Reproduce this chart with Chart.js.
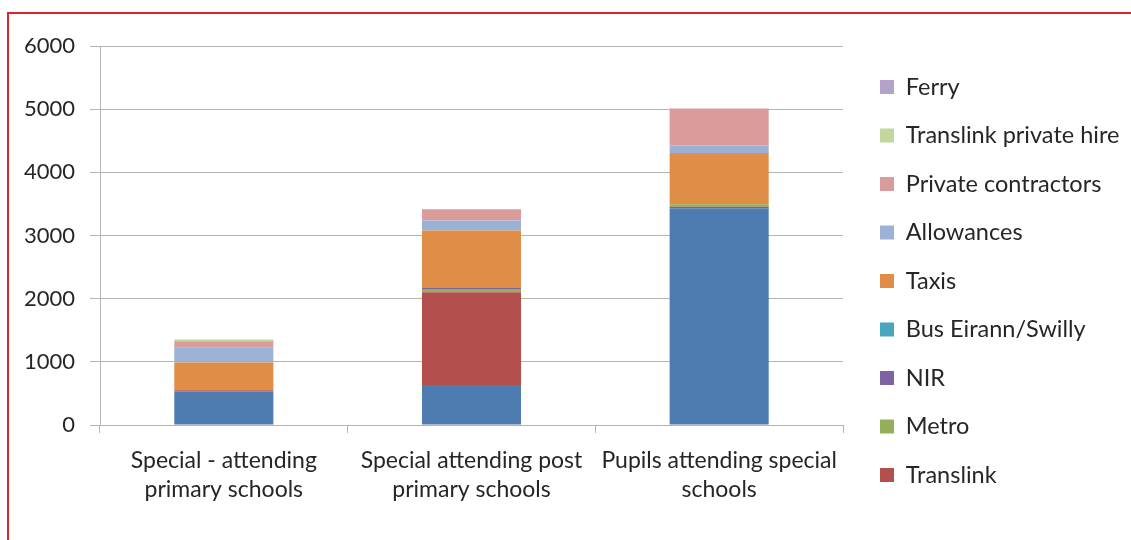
<!DOCTYPE html>
<html>
<head>
<meta charset="utf-8">
<title>Transport of pupils by mode</title>
<script src="https://cdn.jsdelivr.net/npm/chart.js@4/dist/chart.umd.min.js"></script>
<style>
  html, body { margin: 0; padding: 0; background: #ffffff; }
  #frame {
    position: absolute; left: 7px; top: 12px; width: 1124px; height: 528px;
    border-top: 2px solid #D9262F; border-left: 2px solid #D9262F;
    box-sizing: border-box;
  }
  #wrap { position: absolute; left: 0; top: 0; width: 1131px; height: 540px; }
</style>
</head>
<body>
<div id="frame"></div>
<div id="wrap"><canvas id="chart" width="1131" height="540"></canvas></div>
<script>
// Pupil groups along the x axis (two-line labels)
const categories = [
  ['Special - attending', 'primary schools'],
  ['Special attending post', 'primary schools'],
  ['Pupils attending special', 'schools']
];

// Value axis range
const yMin = 0;
const yMax = 6000;
const yStep = 1000;

// Pupils carried by each mode, one value per group (stacked bottom to top)
const boardBuses           = [530, 635, 3430];
const translink            = [20, 1465, 25];
const metro                = [0, 55, 40];
const nir                  = [0, 20, 0];
const busEireannSwilly     = [0, 0, 0];
const taxis                = [440, 905, 810];
const allowances           = [240, 157, 120];
const privateContractors   = [95, 174, 585];
const translinkPrivateHire = [30, 0, 0];
const ferry                = [0, 10, 0];

const series = [
  { label: 'Board buses',            data: boardBuses,           color: '#4E7CB0', legend: false },
  { label: 'Translink',              data: translink,            color: '#B3504D', legend: true },
  { label: 'Metro',                  data: metro,                color: '#93AF59', legend: true },
  { label: 'NIR',                    data: nir,                  color: '#7E62A1', legend: true },
  { label: 'Bus Eirann/Swilly',      data: busEireannSwilly,     color: '#4AA6BE', legend: true },
  { label: 'Taxis',                  data: taxis,                color: '#E08D47', legend: true },
  { label: 'Allowances',             data: allowances,           color: '#9CB1D6', legend: true },
  { label: 'Private contractors',    data: privateContractors,   color: '#D99C9B', legend: true },
  { label: 'Translink private hire', data: translinkPrivateHire, color: '#C3D69B', legend: true },
  { label: 'Ferry',                  data: ferry,                color: '#B3A3C8', legend: true }
];

const FONT = 'Lato, "Open Sans", "Noto Sans", sans-serif';
const TEXT = '#262626';
const GRID = '#B4B4B4';
const LEGEND_FONT = 23.5;
const LEGEND_PAD = 25;

// Keeps the legend in one column beside the plot and places it in the right margin
const legendPlacement = {
  id: 'legendPlacement',
  beforeUpdate(chart) {
    const lg = chart.legend;
    if (lg && !lg._oneColumn) {
      const fit = lg.fit;
      lg.fit = function () {
        this.maxHeight = 2000;
        fit.call(this);
        this.width = 288;
      };
      lg._oneColumn = true;
    }
  },
  afterLayout(chart) {
    const lg = chart.legend;
    lg.left = 880 - LEGEND_PAD;
    lg.right = 1131;
    lg.top = 87 - LEGEND_PAD - LEGEND_FONT / 2;
    lg.bottom = 540;
    lg.width = lg.right - lg.left;
    lg.height = lg.bottom - lg.top;
  }
};

new Chart(document.getElementById('chart'), {
  type: 'bar',
  data: {
    labels: categories,
    datasets: series.map(s => ({
      label: s.label,
      data: s.data,
      backgroundColor: s.color,
      borderWidth: 0,
      showInLegend: s.legend,
      barPercentage: 0.4,
      categoryPercentage: 1.0
    }))
  },
  options: {
    responsive: false,
    animation: false,
    devicePixelRatio: 1,
    layout: { padding: { left: 0, top: 46, right: 0, bottom: 0 } },
    plugins: {
      tooltip: { enabled: false },
      legend: {
        position: 'right',
        align: 'start',
        reverse: true,
        labels: {
          font: { family: FONT, size: LEGEND_FONT },
          color: TEXT,
          boxWidth: 14,
          boxHeight: 14,
          padding: LEGEND_PAD,
          filter: (item, data) => data.datasets[item.datasetIndex].showInLegend
        }
      }
    },
    scales: {
      x: {
        stacked: true,
        afterFit(scale) { scale.height = 115; },
        grid: {
          offset: true,
          drawOnChartArea: false,
          drawTicks: true,
          tickLength: 8,
          color: GRID
        },
        border: { display: true, color: GRID },
        ticks: {
          font: { family: FONT, size: 23, lineHeight: 1.22 },
          color: TEXT,
          padding: 14,
          maxRotation: 0,
          autoSkip: false
        }
      },
      y: {
        stacked: true,
        min: yMin,
        max: yMax,
        afterFit(scale) { scale.width = 100; },
        grid: {
          drawTicks: true,
          tickLength: 10,
          color: GRID
        },
        border: { display: true, color: GRID },
        ticks: {
          stepSize: yStep,
          font: { family: FONT, size: 22 },
          color: TEXT,
          padding: 15,
          callback: v => String(v)
        }
      }
    }
  },
  plugins: [legendPlacement]
});
</script>
</body>
</html>
